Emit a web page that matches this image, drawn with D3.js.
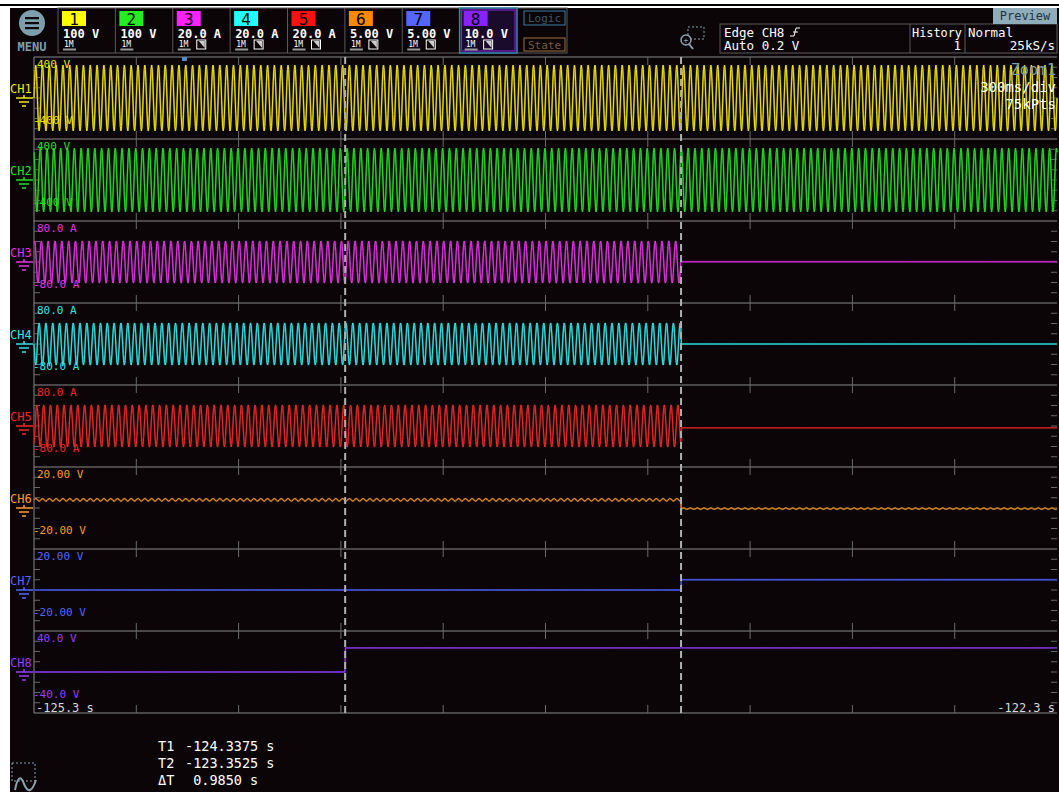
<!DOCTYPE html>
<html>
<head>
<meta charset="utf-8">
<title>Scope capture</title>
<script src="https://cdn.jsdelivr.net/npm/d3@7"></script>
<style>
  body { margin: 0; background: #fff; }
  text { font-family: "DejaVu Sans Mono", "Liberation Mono", monospace; }
</style>
</head>
<body>
<svg width="1059" height="792"></svg>
<script>
// ---- data ----
const channels = ["CH1", "CH2", "CH3", "CH4", "CH5", "CH6", "CH7", "CH8"];
const colors = ["#f2e600", "#22e022", "#e632e6", "#2ee6e6", "#f02828", "#ff9a2a", "#5565ff", "#9a3cff"];
const dimColors = ["#7a7410", "#127a12", "#7a187a", "#167a7a", "#7a1414", "#7a5014", "#2c3388", "#4e2088"];
const tagColors = ["#ffff00", "#22ee22", "#ff22ff", "#22ffff", "#ff1010", "#ff8800", "#5566ff", "#8822ff"];
const vdivLabels = ["100 V", "100 V", "20.0 A", "20.0 A", "20.0 A", "5.00 V", "5.00 V", "10.0 V"];
const topLabels = ["400 V", "400 V", "80.0 A", "80.0 A", "80.0 A", "20.00 V", "20.00 V", "40.0 V"];
const bottomLabels = ["-400 V", "-400 V", "-80.0 A", "-80.0 A", "-80.0 A", "-20.00 V", "-20.00 V", "-40.0 V"];
const fullScale = [400, 400, 80, 80, 80, 20, 20, 40];

// amplitude / level before and after each channel's event
const ampBefore = [320, 310, 41, 41, 41, 0.6, 0, 0];
const ampAfter = [320, 310, 0, 0, 0, 0.3, 0, 0];
const levelBefore = [0, 0, 0, 0, 0, 4, 0, 0];
const levelAfter = [0, 0, 0.5, 0, -3.5, -0.3, 5, 23.5];
const eventCursor = ["T2", "T2", "T2", "T2", "T2", "T2", "T2", "T1"];
const phaseIdx = [0, 4, 2, 6, 10, 0, 0, 0];

// one 50 Hz cycle of the trace, 12 samples
const cycleShape = [0, 0.5, 0.87, 1, 0.87, 0.5, 0, -0.5, -0.87, -1, -0.87, -0.5];
const lineHz = 50;

const timeRange = [-125.25, -122.25];
const timeLabels = ["-125.3 s", "-122.3 s"];
const cursors = { T1: -124.3375, T2: -123.3525 };
const cursorText = [["T1", "-124.3375 s"], ["T2", "-123.3525 s"], ["ΔT", " 0.9850 s"]];

// ---- drawing ----
const svg = d3.select("svg");
const pLeft = 34, pRight = 1057, pTop = 57, stripH = 82;
const pBottom = pTop + stripH * 8;

svg.append("rect").attr("x", 0).attr("y", 4).attr("width", 1059).attr("height", 2).attr("fill", "#000");
svg.append("rect").attr("x", 10).attr("y", 8).attr("width", 1049).attr("height", 784).attr("fill", "#0b0508");

const x = d3.scaleLinear().domain(timeRange).range([pLeft, pRight]);

// header: menu button
svg.append("circle").attr("cx", 32).attr("cy", 23).attr("r", 13).attr("fill", "#7f9eac");
[-5, 0, 5].forEach(d => svg.append("rect").attr("x", 25).attr("y", 22 + d).attr("width", 14).attr("height", 2.2).attr("fill", "#0b0508"));
svg.append("text").attr("x", 32).attr("y", 51).attr("text-anchor", "middle").attr("font-size", 12)
  .attr("font-weight", "bold").attr("font-family", "DejaVu Sans").attr("fill", "#7f9eac").text("MENU");

// channel boxes
const boxX = d3.scaleLinear().domain([0, 8]).range([58, 517]);
svg.append("rect").attr("x", 58).attr("y", 8).attr("width", 509).attr("height", 45)
  .attr("fill", "none").attr("stroke", "#5a5a5a");
channels.forEach((c, i) => {
  const bx = boxX(i), bw = boxX(i + 1) - boxX(i);
  const g = svg.append("g");
  if (i === 7) {
    g.append("rect").attr("x", bx).attr("y", 8).attr("width", bw).attr("height", 45)
      .attr("fill", "#1a0a2c").attr("stroke", "#3a86b0").attr("stroke-width", 1.5);
    g.append("rect").attr("x", bx + 2).attr("y", 10).attr("width", bw - 4).attr("height", 41)
      .attr("fill", "none").attr("stroke", "#8a2ae0").attr("stroke-width", 1);
  } else {
    g.append("line").attr("x1", bx + bw).attr("x2", bx + bw).attr("y1", 8).attr("y2", 53).attr("stroke", "#5a5a5a");
  }
  g.append("rect").attr("x", bx + 4).attr("y", 11).attr("width", 24).attr("height", 15).attr("fill", tagColors[i]);
  g.append("text").attr("x", bx + 16).attr("y", 24.5).attr("text-anchor", "middle").attr("font-size", 16)
    .attr("fill", "#000").text(i + 1);
  g.append("text").attr("x", bx + 5).attr("y", 38).attr("font-size", 12).attr("font-weight", "bold")
    .attr("fill", "#fff").text(vdivLabels[i]);
  g.append("text").attr("x", bx + 6).attr("y", 47).attr("font-size", 8).attr("fill", "#fff").text("1M");
  g.append("rect").attr("x", bx + 5).attr("y", 48.5).attr("width", 13).attr("height", 2).attr("fill", "#999");
  if (i >= 2) {
    g.append("rect").attr("x", bx + 24).attr("y", 40).attr("width", 9).attr("height", 9)
      .attr("fill", "none").attr("stroke", "#fff");
    g.append("path").attr("d", `M${bx + 26},${41} L${bx + 32},${48} L${bx + 32},${41}`).attr("fill", "#ccc");
  }
});

// logic / state
svg.append("rect").attr("x", 524).attr("y", 11).attr("width", 41).attr("height", 14).attr("fill", "none").attr("stroke", "#3b7ea6");
svg.append("text").attr("x", 544.5).attr("y", 22).attr("text-anchor", "middle").attr("font-size", 11)
  .attr("font-family", "DejaVu Sans").attr("fill", "#3e5866").text("Logic");
svg.append("rect").attr("x", 524).attr("y", 38).attr("width", 41).attr("height", 13).attr("fill", "none").attr("stroke", "#a0703e");
svg.append("text").attr("x", 544.5).attr("y", 48.5).attr("text-anchor", "middle").attr("font-size", 11)
  .attr("font-family", "DejaVu Sans").attr("fill", "#7a5a3c").text("State");

// zoom icon
svg.append("rect").attr("x", 688).attr("y", 27).attr("width", 16).attr("height", 12).attr("fill", "none")
  .attr("stroke", "#8aa2ae").attr("stroke-dasharray", "2,2");
svg.append("circle").attr("cx", 686).attr("cy", 40).attr("r", 5).attr("fill", "#0b0508").attr("stroke", "#8aa2ae").attr("stroke-width", 1.5);
svg.append("line").attr("x1", 689).attr("y1", 44).attr("x2", 693).attr("y2", 49).attr("stroke", "#8aa2ae").attr("stroke-width", 2);
svg.append("text").attr("x", 686).attr("y", 43).attr("text-anchor", "middle").attr("font-size", 8).attr("fill", "#8aa2ae").text("+");

// trigger / history / rate
svg.append("rect").attr("x", 720).attr("y", 24).attr("width", 337).attr("height", 29).attr("fill", "none").attr("stroke", "#5a5a5a");
svg.append("line").attr("x1", 910).attr("x2", 910).attr("y1", 24).attr("y2", 53).attr("stroke", "#5a5a5a");
svg.append("line").attr("x1", 965).attr("x2", 965).attr("y1", 24).attr("y2", 53).attr("stroke", "#5a5a5a");
const hdr = (t, xx, yy, anchor) => svg.append("text").attr("x", xx).attr("y", yy).attr("font-size", 12.5)
  .attr("text-anchor", anchor || "start").attr("fill", "#fff").text(t);
hdr("Edge CH8", 724, 37);
svg.append("path").attr("d", "M790,36 L794,36 L796,28 L800,28 M793,32 L798,32").attr("fill", "none").attr("stroke", "#fff");
hdr("Auto 0.2 V", 724, 50);
svg.append("text").attr("x", 912).attr("y", 37).attr("font-size", 12.5).attr("fill", "#fff")
  .attr("textLength", 50).attr("lengthAdjust", "spacingAndGlyphs").text("History");
hdr("1", 961, 50, "end");
hdr("Normal", 968, 37);
hdr("25kS/s", 1055, 50, "end");
svg.append("rect").attr("x", 993).attr("y", 8).attr("width", 64).attr("height", 16).attr("fill", "#8eacba");
svg.append("text").attr("x", 1025).attr("y", 20).attr("text-anchor", "middle").attr("font-size", 12)
  .attr("fill", "#1f3340").text("Preview");

// plot frame and strips
const grid = svg.append("g");
grid.append("line").attr("x1", pLeft).attr("x2", pLeft).attr("y1", pTop).attr("y2", pBottom).attr("stroke", "#8a8a8a");
d3.range(9).forEach(k => {
  const yy = pTop + k * stripH;
  grid.append("line").attr("x1", pLeft).attr("x2", pRight).attr("y1", yy).attr("y2", yy).attr("stroke", "#8a8a8a");
  d3.range(1, 10).forEach(d => {
    const xx = pLeft + d * (pRight - pLeft) / 10;
    grid.append("line").attr("x1", xx).attr("x2", xx)
      .attr("y1", Math.max(pTop, yy - 8)).attr("y2", Math.min(pBottom, yy + 8)).attr("stroke", "#6a6a6a");
  });
});
d3.range(8).forEach(k => {
  d3.range(1, 8).forEach(m => {
    const yy = pTop + k * stripH + m * stripH / 8;
    grid.append("line").attr("x1", pLeft).attr("x2", pLeft + 6).attr("y1", yy).attr("y2", yy).attr("stroke", "#6a6a6a");
    grid.append("line").attr("x1", pRight - 6).attr("x2", pRight).attr("y1", yy).attr("y2", yy).attr("stroke", "#6a6a6a");
  });
});

// trigger position marker
svg.append("rect").attr("x", 182).attr("y", 57).attr("width", 5).attr("height", 4).attr("fill", "#4a8ed0");

// traces
const line = d3.line().x(d => x(d.t)).y(d => d.y);
channels.forEach((c, i) => {
  const y0 = pTop + i * stripH;
  const y = d3.scaleLinear().domain([-fullScale[i], fullScale[i]]).range([y0 + stripH, y0]);
  const tEvent = cursors[eventCursor[i]];
  const pts = [];
  const step = 1 / (lineHz * cycleShape.length);
  const n = Math.round((timeRange[1] - timeRange[0]) / step);
  for (let k = 0; k <= n; k++) {
    const t = timeRange[0] + k * step;
    const s = cycleShape[(k + phaseIdx[i]) % cycleShape.length];
    const before = t < tEvent;
    const v = before ? levelBefore[i] + ampBefore[i] * s : levelAfter[i] + ampAfter[i] * s;
    pts.push({ t: t, y: y(v) });
  }
  svg.append("path").datum(pts).attr("d", line).attr("fill", "none")
    .attr("stroke", dimColors[i]).attr("stroke-width", 1.8);
  svg.append("path").datum(pts).attr("d", line).attr("fill", "none")
    .attr("stroke", colors[i]).attr("stroke-width", 1);

  // scale labels
  svg.append("text").attr("x", 37).attr("y", y0 + 11).attr("font-size", 11).attr("fill", colors[i]).text(topLabels[i]);
  svg.append("text").attr("x", 33).attr("y", y0 + stripH - 15).attr("font-size", 11).attr("fill", colors[i]).text(bottomLabels[i]);

  // channel name and ground marker
  const g0 = y(0);
  svg.append("text").attr("x", 10).attr("y", g0 - 5).attr("font-size", 12).attr("font-family", "DejaVu Sans")
    .attr("fill", colors[i]).text(c);
  svg.append("path").attr("d", `M16,${g0} H33 M24,${g0} V${g0 - 3} M19,${g0 + 4} H29 M22,${g0 + 8} H26`)
    .attr("fill", "none").attr("stroke", colors[i]).attr("stroke-width", 1.5);
});

// cursors
Object.values(cursors).forEach(t => {
  svg.append("line").attr("x1", x(t)).attr("x2", x(t)).attr("y1", pTop).attr("y2", pBottom)
    .attr("stroke", "#b0b0b0").attr("stroke-width", 2).attr("stroke-dasharray", "7,4");
});

// zoom readout
svg.append("text").attr("x", 1056).attr("y", 75).attr("text-anchor", "end").attr("font-size", 15)
  .attr("font-family", "DejaVu Sans").attr("fill", "#7f9eac").text("Zoom1");
svg.append("text").attr("x", 1056).attr("y", 92).attr("text-anchor", "end").attr("font-size", 14).attr("fill", "#fff").text("300ms/div");
svg.append("text").attr("x", 1056).attr("y", 109).attr("text-anchor", "end").attr("font-size", 14).attr("fill", "#fff").text("75kPts");

// time labels
svg.append("text").attr("x", 36).attr("y", 712).attr("font-size", 12).attr("fill", "#d8d8d8").text(timeLabels[0]);
svg.append("text").attr("x", 1055).attr("y", 712).attr("text-anchor", "end").attr("font-size", 12).attr("fill", "#d8d8d8").text(timeLabels[1]);

// cursor readout
cursorText.forEach((r, k) => {
  svg.append("text").attr("x", 158).attr("y", 751 + k * 17).attr("font-size", 13.5).attr("fill", "#fff").text(r[0]);
  svg.append("text").attr("x", 185).attr("y", 751 + k * 17).attr("font-size", 13.5).attr("fill", "#fff")
    .attr("xml:space", "preserve").text(r[1]);
});

// bottom-left icon
svg.append("rect").attr("x", 12).attr("y", 763).attr("width", 23).attr("height", 18).attr("fill", "none")
  .attr("stroke", "#8aa2ae").attr("stroke-dasharray", "2,2");
svg.append("path").attr("d", "M15,790 Q19,770 24,784 Q30,798 36,780").attr("fill", "none").attr("stroke", "#8aa2ae").attr("stroke-width", 2);
</script>
</body>
</html>
